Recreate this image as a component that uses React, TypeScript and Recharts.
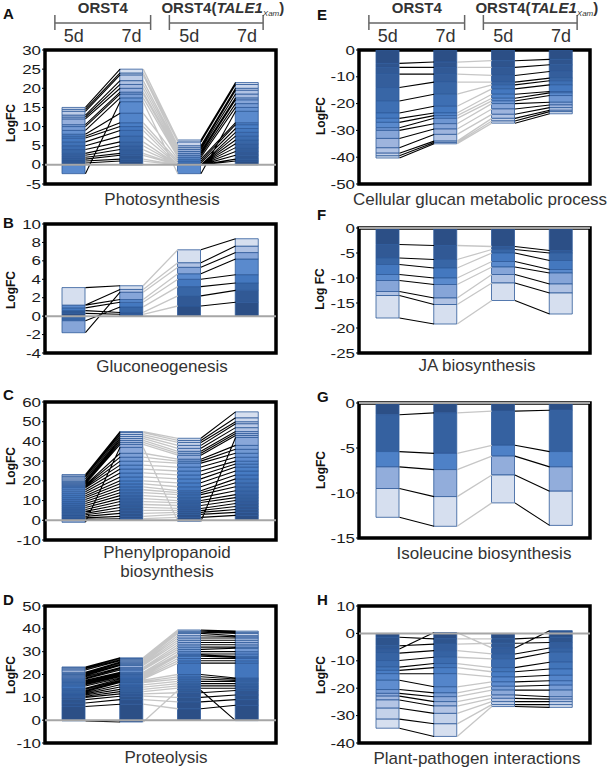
import React from 'react';
import { ComposedChart, Bar, Line, XAxis, YAxis, ReferenceLine, ReferenceArea } from 'recharts';

// Stack tops (LogFC) of each gene, in stack order, for the four lanes:
// ORST4 5d, ORST4 7d, ORST4(TALE1) 5d, ORST4(TALE1) 7d
const photoO5 = [0.5, 1, 1.5, 2, 2.5, 3, 4, 5, 6, 7, 7.5, 8, -2.3, 9, 10, 10.5, 12, 12.5, 13, 14, 14.5, 15];
const photoO7 = [1, 1.5, 2.5, 3, 4, 5, 6, 7.5, 9, 10, 11, 13.5, 16.5, 17.5, 18.5, 19, 20, 21, 22, 23.5, 24, 25];
const photoT5 = [0, 0, 0, 0, 0, 0, 0, 0, 0, 0.5, 1, 1.5, -2.3, 2, 2.5, 3, 3.5, 4, 4.5, 5, 6, 6.5];
const photoT7 = [1, 1.5, 2.5, 3.5, 4.5, 5.5, 6.5, 7.5, 8.5, 9.5, 10.5, 11, 14, 15, 16, 17, 17.5, 18.5, 19.5, 20, 21, 21.5];

const gluO5 = [0.3, 0.6, -0.5, 0.9, 1.2, -1.8, 1.2, 3.1];
const gluO7 = [0.2, 0.4, 1.0, 1.5, 1.8, 2.6, 2.9, 3.3];
const gluT5 = [1.1, 2.2, 3.2, 4.0, 4.6, 5.3, 5.8, 7.2];
const gluT7 = [1.5, 2.8, 3.6, 4.5, 6.2, 6.9, 7.6, 8.4];

const phenO5 = [0.5, 1.2, 2, 2.8, 3.5, 4.5, 5.5, 6.5, 7.5, 8.5, 9.5, 10.5, 11.5, 12.5, 13.5, 14.5, 15.5, 16.5, 17, 17.5, 18, -1, 18.5, 19, 19.5, 20, 21, 22, 22.5, 23.2];
const phenO7 = [0.8, 2, 3.5, 5, 6.5, 8, 9.5, 11, 12.5, 14, 15.5, 17, 18.5, 20, 22, 24, 26, 28, 30, 32, 34, 37, 38.5, 39.5, 40.5, 41.5, 42.5, 43.5, 44.5, 45];
const phenT5 = [1.5, 3, 4, 5, 6, 7.5, 9, 10, 11.5, 13, 14, 15, 17, 19, 21, 23, 25, 27, 29, 30, 31, -0.5, 33, 34, 35, 36.5, 38, 39.5, 40.5, 41.6];
const phenT7 = [2.5, 4, 5.5, 7, 8.5, 10, 11.5, 13, 15, 17, 19, 21, 23, 25, 27, 28.5, 30, 32, 34, 36, 38, 42, 43, 44, 45, 47, 49, 50, 52, 55];

const protO5 = [6, 7.5, 9, 10, -0.3, 10.5, 11, 11.5, 12, 12.5, 13, 13.5, 14, 15, 15.5, 16, 16.5, 17, 17.5, 18, 18.5, 19, 19.5, 20, 20.5, 21, 22, 22.5, 23, 23.3];
const protO7 = [7, 9, 10.5, 11.5, -0.8, 12.5, 13.5, 14.5, 15.5, 16.5, 17, 17.5, 18, 18.5, 19, 19.5, 20, 20.5, 21, 22, 22.5, 23, 24, 24.5, 25, 25.5, 26, 26.5, 27, 27.3];
const protT5 = [5, 8, 10, 12, 13, 14, 15, 16, 17, 18, 19, 20, 25, 26, 27, 28, 28.5, 29, 30, 31, 32, 33, 34, 35, 36, 37, 38, 38.5, 39, 39.5];
const protT7 = [6.5, 9, 11, 13, -0.2, 14, 15, 16, 17, 17.5, 18, 18.5, 25, 26, 27, 27.5, 28, 29, 30, 31.5, 32, 33, 34, 35, 36, 36.5, 37, 38, 38.5, 39];

const glucO5 = [-5, -6.5, -9, -14, -19, -23.5, -25.5, -27, -29, -30, -33, -36.5, -38.5, -39.5, -40.3];
const glucO7 = [-4.5, -6.5, -9, -12, -16.5, -21, -23.5, -24.5, -25.5, -27.5, -29.5, -31.5, -34, -34.5, -35];
const glucT5 = [-4, -6.5, -9.5, -12, -13, -14.5, -16.5, -18, -19, -20, -22, -24, -25.5, -26.5, -27.3];
const glucT7 = [-3.5, -5.5, -8, -10.5, -11.5, -13, -15.5, -16, -17, -19.5, -20.5, -21.5, -22.5, -23, -23.8];

const jaO5 = [-3.3, -6, -7.3, -9.3, -10.5, -12.7, -13.5, -18];
const jaO7 = [-3.5, -6.3, -8, -10, -11.3, -14, -15.3, -19.2];
const jaT5 = [-3.7, -4.3, -5, -6.7, -7.8, -9.3, -11, -14.5];
const jaT7 = [-4.5, -5, -6.5, -8.3, -9, -11.2, -13, -17.2];

const ileO5 = [-1.3, -5.4, -7.1, -9.5, -12.7];
const ileO7 = [-1.1, -5.6, -7.4, -10.4, -13.7];
const ileT5 = [-0.9, -4.7, -5.9, -8, -11.1];
const ileT7 = [-0.8, -5.4, -7.1, -9.8, -13.6];

const ppiO5 = [-1.4, -4.5, -5.7, -7.2, -9.9, -12.3, -13.5, -14.7, -17.1, -20.5, -21.9, -22.9, -24.3, -27.3, -31.3, -34.6];
const ppiO7 = [-2, -3.9, 0.3, -6.3, -8.7, -11, -12.5, -14.7, -19.5, -21.7, -23.1, -24.9, -26.5, -29.2, -33, -37.6];
const ppiT5 = [-2, -3.6, -5.3, -7.5, -9.3, -12.5, -14, -15.9, -17.7, -19.3, -20.7, -22.5, -23.7, -24.9, -26, -26.7];
const ppiT7 = [-1.4, -3.3, 1, -5.3, -6.9, -10.5, -13, -15.3, -17.3, -18.9, -20.7, -23.1, -24, -24.9, -26, -27];

const photoTicks = [-5, 0, 5, 10, 15, 20, 25, 30];
const gluTicks = [-4, -2, 0, 2, 4, 6, 8, 10];
const phenTicks = [-10, 0, 10, 20, 30, 40, 50, 60];
const protTicks = [-10, 0, 10, 20, 30, 40, 50];
const glucTicks = [-50, -40, -30, -20, -10, 0];
const jaTicks = [-25, -20, -15, -10, -5, 0];
const ileTicks = [-15, -10, -5, 0];
const ppiTicks = [-40, -30, -20, -10, 0, 10];

const dayLabels = ['5d', '7d', '5d', '7d'];

const FONT = '"Liberation Sans", Arial, Helvetica, sans-serif';
const HALF = 0.2; // half a bar, in lane units
const BAR_PX = 23;
const PAD = 12;

const STOPS: [number, string][] = [
  [0, '#2c4f86'],
  [0.25, '#3561a0'],
  [0.45, '#467bc3'],
  [0.6, '#5f8dcf'],
  [0.78, '#9cb3dd'],
  [1, '#d6dfef'],
];

function hex(c: string) {
  return [1, 3, 5].map((i) => parseInt(c.slice(i, i + 2), 16));
}

function geneColor(t: number) {
  for (let i = 1; i < STOPS.length; i++) {
    const [t1, c1] = STOPS[i];
    const [t0, c0] = STOPS[i - 1];
    if (t <= t1) {
      const f = (t - t0) / (t1 - t0);
      const a = hex(c0);
      const b = hex(c1);
      return `rgb(${a.map((v, k) => Math.round(v + (b[k] - v) * f)).join(',')})`;
    }
  }
  return STOPS[STOPS.length - 1][1];
}

// segment sizes from stack tops (positive and negative genes stack separately)
function segments(tops: number[]) {
  let pos = 0;
  let neg = 0;
  return tops.map((e) => {
    if (e >= 0) {
      const v = e - pos;
      pos = e;
      return v;
    }
    const v = e - neg;
    neg = e;
    return v;
  });
}

interface PanelSpec {
  lanes: number[][];
  ticks: number[];
  side: 'L' | 'R';
  top: number;
  bottom: number;
  zero: boolean;
}

const panels: PanelSpec[] = [
  { lanes: [photoO5, photoO7, photoT5, photoT7], ticks: photoTicks, side: 'L', top: 50, bottom: 184, zero: true },
  { lanes: [gluO5, gluO7, gluT5, gluT7], ticks: gluTicks, side: 'L', top: 224, bottom: 353, zero: true },
  { lanes: [phenO5, phenO7, phenT5, phenT7], ticks: phenTicks, side: 'L', top: 402, bottom: 540, zero: true },
  { lanes: [protO5, protO7, protT5, protT7], ticks: protTicks, side: 'L', top: 606, bottom: 743, zero: true },
  { lanes: [glucO5, glucO7, glucT5, glucT7], ticks: glucTicks, side: 'R', top: 50, bottom: 184, zero: false },
  { lanes: [jaO5, jaO7, jaT5, jaT7], ticks: jaTicks, side: 'R', top: 228, bottom: 353, zero: true },
  { lanes: [ileO5, ileO7, ileT5, ileT7], ticks: ileTicks, side: 'R', top: 403, bottom: 538, zero: true },
  { lanes: [ppiO5, ppiO7, ppiT5, ppiT7], ticks: ppiTicks, side: 'R', top: 606, bottom: 743, zero: true },
];

const SIDES = {
  L: { chartLeft: 0, plotLeft: 45, plotRight: 276 },
  R: { chartLeft: 300, plotLeft: 359, plotRight: 590 },
};

const StretchTick = (props: any) => {
  const { x, y, payload } = props;
  return (
    <g transform={`translate(${x},${y})`}>
      <text textAnchor="end" dy="0.35em" transform="scale(1.3,1)" fontSize={13} fill="#1a1a1a" fontFamily={FONT}>
        {payload.value}
      </text>
    </g>
  );
};

function Panel({ spec }: { spec: PanelSpec }) {
  const side = SIDES[spec.side];
  const n = spec.lanes[0].length;
  const lo = spec.ticks[0];
  const hi = spec.ticks[spec.ticks.length - 1];
  const segs = spec.lanes.map(segments);
  const rows = spec.lanes.map((_, j) => {
    const r: Record<string, number> = { x: j + 0.5 };
    segs[j].forEach((v, k) => (r['g' + k] = v));
    return r;
  });
  // one connector series per gap, segments split by null points
  const gaps = [0, 1, 2].map((j) => {
    const pts: { x: number; v: number | null }[] = [];
    spec.lanes[j].forEach((e, k) => {
      pts.push({ x: j + 0.5 + HALF, v: e });
      pts.push({ x: j + 1.5 - HALF, v: spec.lanes[j + 1][k] });
      pts.push({ x: j + 1.5 - HALF, v: null });
    });
    return pts;
  });
  const yw = side.plotLeft - side.chartLeft;
  const width = side.plotRight - side.chartLeft + 4;
  const height = spec.bottom - spec.top + PAD * 2;

  return (
    <div style={{ position: 'absolute', left: side.chartLeft, top: spec.top - PAD }}>
      <ComposedChart width={width} height={height} data={rows} stackOffset="sign" margin={{ top: PAD, right: 4, bottom: PAD, left: 0 }}>
        <XAxis type="number" dataKey="x" domain={[0, 4]} allowDataOverflow hide />
        <XAxis xAxisId="c" type="number" dataKey="x" domain={[0, 4]} allowDataOverflow hide />
        <YAxis
          type="number"
          domain={[lo, hi]}
          ticks={spec.ticks}
          interval={0}
          allowDataOverflow
          width={yw}
          axisLine={false}
          tickLine={{ stroke: '#000' }}
          tickSize={3}
          tickMargin={1}
          tick={StretchTick}
        />
        {Array.from({ length: n }, (_, k) => (
          <Bar
            key={'g' + k}
            dataKey={'g' + k}
            stackId="s"
            fill={geneColor(n > 1 ? k / (n - 1) : 0)}
            stroke="#2f5b9b"
            strokeWidth={0.8}
            barSize={BAR_PX}
            isAnimationActive={false}
          />
        ))}
        {gaps.map((pts, j) => (
          <Line
            key={'c' + j}
            xAxisId="c"
            data={pts}
            dataKey="v"
            type="linear"
            stroke={j === 1 ? '#c6c6c6' : '#000'}
            strokeWidth={j === 1 ? 1.3 : 1.1}
            dot={false}
            activeDot={false}
            connectNulls={false}
            isAnimationActive={false}
          />
        ))}
        {spec.zero && <ReferenceLine y={0} stroke="#a6a6a6" strokeWidth={2} />}
        <ReferenceArea x1={0} x2={4} y1={lo} y2={hi} fill="none" stroke="#000" strokeWidth={3.5} ifOverflow="visible" />
      </ComposedChart>
    </div>
  );
}

const titles = [
  { x: 162, y: 205, t: 'Photosynthesis' },
  { x: 162, y: 372, t: 'Gluconeogenesis' },
  { x: 167, y: 558, t: 'Phenylpropanoid' },
  { x: 167, y: 577, t: 'biosynthesis' },
  { x: 166, y: 763, t: 'Proteolysis' },
  { x: 480, y: 205, t: 'Cellular glucan metabolic process' },
  { x: 477, y: 371, t: 'JA biosynthesis' },
  { x: 484, y: 559, t: 'Isoleucine biosynthesis' },
  { x: 477, y: 764, t: 'Plant-pathogen interactions' },
];

const letters = [
  { x: 3, y: 19, t: 'A' },
  { x: 3, y: 228, t: 'B' },
  { x: 3, y: 400, t: 'C' },
  { x: 3, y: 605, t: 'D' },
  { x: 317, y: 20, t: 'E' },
  { x: 317, y: 220, t: 'F' },
  { x: 317, y: 402, t: 'G' },
  { x: 317, y: 605, t: 'H' },
];

const yLabels = [
  { x: 15, y: 123, t: 'LogFC' },
  { x: 15, y: 290, t: 'LogFC' },
  { x: 15, y: 466, t: 'LogFC' },
  { x: 15, y: 675, t: 'LogFC' },
  { x: 325, y: 116, t: 'LogFC' },
  { x: 324, y: 289, t: 'Log FC' },
  { x: 325, y: 470, t: 'LogFC' },
  { x: 325, y: 675, t: 'LogFC' },
];

function Header({ side }: { side: 'L' | 'R' }) {
  const s = SIDES[side];
  const unit = (s.plotRight - s.plotLeft) / 4;
  const centers = [0, 1, 2, 3].map((j) => s.plotLeft + unit * (j + 0.5));
  const b1 = [centers[0] - 19, centers[1] + 19];
  const b2 = [centers[2] - 20, centers[3] + 16];
  const tick = (x: number) => <line x1={x} x2={x} y1={15} y2={30} stroke="#666" strokeWidth={1.5} />;
  return (
    <g fontFamily={FONT} fill="#333">
      <line x1={b1[0]} x2={b1[1]} y1={23} y2={23} stroke="#666" strokeWidth={1.5} />
      {tick(b1[0])}
      {tick(b1[1])}
      <line x1={b2[0]} x2={b2[1]} y1={23} y2={23} stroke="#666" strokeWidth={1.5} />
      {tick(b2[0])}
      {tick(b2[1])}
      <text x={(b1[0] + b1[1]) / 2} y={13} textAnchor="middle" fontWeight="bold" fontSize={15}>ORST4</text>
      <text x={b2[0] - 8} y={13} fontWeight="bold" fontSize={15}>
        ORST4(<tspan fontStyle="italic">TALE1</tspan>
        <tspan fontStyle="italic" fontWeight="normal" fontSize={8} dy={3}>Xam</tspan>
        <tspan dy={-3}>)</tspan>
      </text>
      {centers.map((c, j) => (
        <text key={j} x={c} y={42} textAnchor="middle" fontSize={18}>{dayLabels[j]}</text>
      ))}
    </g>
  );
}

export default function App() {
  return (
    <div style={{ position: 'absolute', left: 0, top: 0, width: 609, height: 768, background: '#fff', overflow: 'hidden' }}>
      {panels.map((p, i) => (
        <Panel key={i} spec={p} />
      ))}
      <svg width={609} height={768} style={{ position: 'absolute', left: 0, top: 0, pointerEvents: 'none' }}>
        <Header side="L" />
        <Header side="R" />
        {titles.map((t, i) => (
          <text key={i} x={t.x} y={t.y} textAnchor="middle" fontSize={17} fill="#333" fontFamily={FONT}>{t.t}</text>
        ))}
        {letters.map((t, i) => (
          <text key={i} x={t.x} y={t.y} fontSize={15} fontWeight="bold" fill="#111" fontFamily={FONT}>{t.t}</text>
        ))}
        {yLabels.map((t, i) => (
          <text key={i} transform={`translate(${t.x},${t.y}) rotate(-90)`} textAnchor="middle" fontSize={12} fontWeight="bold" fill="#111" fontFamily={FONT}>{t.t}</text>
        ))}
      </svg>
    </div>
  );
}
